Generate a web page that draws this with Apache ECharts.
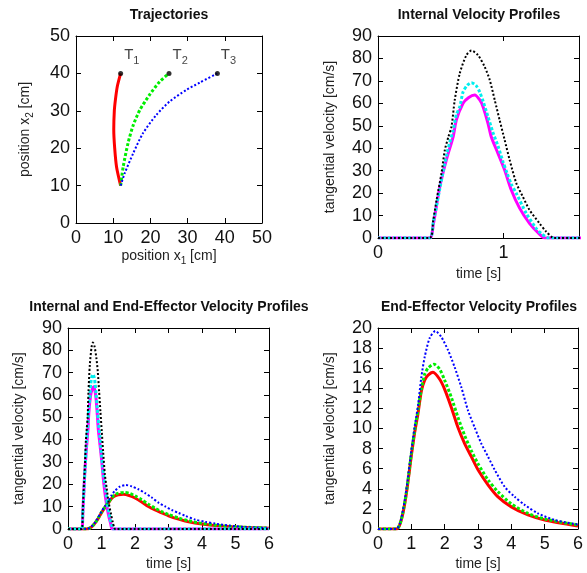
<!DOCTYPE html>
<html><head><meta charset="utf-8">
<script src="https://cdn.jsdelivr.net/npm/echarts@6/dist/echarts.min.js"></script>
<style>html,body{margin:0;padding:0;background:#fff}#c{width:587px;height:573px}</style>
</head><body><div id="c"></div>
<script>
// ---------- Trajectories (position x1, x2 in cm) ----------
const t1X = [12, 10.9, 10.4, 10.15, 10.3, 10.6, 11.1, 12];
const t1Y = [10, 15, 20, 25, 30, 33, 36.5, 40];
const t2X = [12, 12.7, 14.0, 15.4, 17.2, 19.8, 22.5, 25];
const t2Y = [10, 15.1, 21.4, 26.2, 30.3, 34.3, 37.8, 40];
const t3X = [12, 13.1, 15.4, 18.0, 21.6, 25.2, 29.7, 33.2, 38];
const t3Y = [10, 13.3, 18.7, 24, 28.9, 32.5, 35.6, 37.5, 40];
const endX = [12, 25, 38];
const endY = [40, 40, 40];
const endLabels = ['1', '2', '3'];

// ---------- Internal velocity profiles (time s, cm/s) ----------
const intBlackT = [0,0.41,0.44,0.466,0.505,0.532,0.56,0.585,0.611,0.651,0.704,0.744,0.796,0.849,0.889,0.929,0.968,1.008,1.048,1.101,1.153,1.206,1.286,1.339,1.38,1.40,6];
const intBlackV = [0,0,8,16.9,28.8,39.2,45,49.6,61.5,73.4,81.5,83.5,81.5,76.3,70.5,61.5,52.6,43.7,34.8,24.4,18.4,12.5,6.5,2.8,0.6,0,0];
const intCyanT = [0,0.41,0.44,0.492,0.55,0.598,0.624,0.651,0.677,0.71,0.744,0.78,0.81,0.836,0.876,0.915,0.955,0.995,1.028,1.061,1.101,1.18,1.259,1.30,1.36,6];
const intCyanV = [0,0,7,22,38,48,55,58.5,65,68,69.2,68,65,61,54,47,41,34,28.8,24,19.9,11,4.3,2,0,0];
const intMagT = [0,0.41,0.44,0.492,0.55,0.598,0.624,0.677,0.72,0.77,0.81,0.836,0.876,0.902,0.955,1.008,1.061,1.127,1.206,1.272,1.33,6];
const intMagV = [0,0,6,22.9,36,45.1,52.6,60,62.5,63.7,61.5,58.5,51,45,37.7,30.3,21.4,13.3,6.5,2.5,0,0];

// ---------- End-effector velocity profiles (time s, cm/s) ----------
const eeBlueT = [0,0.55,0.65,0.75,0.85,0.95,1.0,1.1,1.2,1.3,1.4,1.55,1.72,1.9,2.1,2.3,2.5,2.7,2.9,3.1,3.3,3.5,3.8,4.1,4.4,4.8,5.3,6.0];
const eeBlueV = [0,0,0.5,1.9,3.9,6.5,7.8,10.2,12.3,15.1,17.1,19.0,19.7,19.1,17.8,16.1,14.1,11.8,10.1,8.5,7.2,5.9,4.2,3.2,2.4,1.55,0.9,0.45];
const eeGreenT = [0,0.55,0.65,0.75,0.85,0.95,1.0,1.1,1.2,1.3,1.4,1.5,1.68,1.85,2.0,2.2,2.4,2.6,2.8,3.0,3.3,3.6,4.0,4.5,5.0,6.0];
const eeGreenV = [0,0,0.4,1.7,3.6,6.2,7.5,9.8,11.8,13.9,15.4,16.0,16.4,15.9,14.8,13.1,11.1,9.3,7.8,6.5,4.9,3.7,2.5,1.55,1.0,0.4];
const eeRedT = [0,0.55,0.65,0.75,0.85,0.95,1.0,1.1,1.2,1.3,1.4,1.5,1.65,1.85,2.0,2.2,2.4,2.6,2.8,3.0,3.3,3.6,4.0,4.5,5.0,6.0];
const eeRedV = [0,0,0.4,1.6,3.5,6.0,7.3,9.6,11.5,13.7,14.8,15.3,15.6,14.9,13.9,12.1,10.1,8.5,7.2,5.9,4.4,3.2,2.2,1.4,0.9,0.3];

const zip = (a, b) => a.map((v, i) => [v, b[i]]);

const FONT = '"Liberation Sans", Arial, Helvetica, sans-serif';
const chart = echarts.init(document.getElementById('c'), null, {renderer: 'canvas'});

const subRich = {
  n: {fontFamily: FONT, fontSize: 14, color: '#222', lineHeight: 15, padding: [0, 0, 3, 0], verticalAlign: 'bottom'},
  s: {fontFamily: FONT, fontSize: 10, color: '#222', lineHeight: 10, verticalAlign: 'bottom'}
};
const tRich = {
  n: {fontFamily: FONT, fontSize: 15, color: '#111', lineHeight: 16, padding: [0, 0, 4, 0], verticalAlign: 'bottom'},
  s: {fontFamily: FONT, fontSize: 11, color: '#111', lineHeight: 11, verticalAlign: 'bottom'}
};

const grids = [
  {left: 76, top: 36, width: 186, height: 187},
  {left: 378, top: 36, width: 201, height: 202},
  {left: 68, top: 328, width: 201, height: 201},
  {left: 378, top: 328, width: 200, height: 201}
];
const xSpec = [
  {min: 0, max: 50, interval: 10, name: '{n|position x}{s|1}{n| [cm]}', gap: 28},
  {min: 0, max: 1.6, interval: 1, name: 'time [s]', gap: 29, fmt: v => (v === 0 || v === 1) ? String(v) : ''},
  {min: 0, max: 6, interval: 1, name: 'time [s]', gap: 28},
  {min: 0, max: 6, interval: 1, name: 'time [s]', gap: 28}
];
const ySpec = [
  {min: 0, max: 50, interval: 10, name: '{n|position x}{s|2}{n| [cm]}', gap: 41},
  {min: 0, max: 90, interval: 10, name: 'tangential velocity [cm/s]', gap: 41},
  {min: 0, max: 90, interval: 10, name: 'tangential velocity [cm/s]', gap: 42},
  {min: 0, max: 20, interval: 2, name: 'tangential velocity [cm/s]', gap: 41}
];

const lineC = {lineStyle: {color: '#000', width: 1}, onZero: false};
const tickC = {inside: true, length: 5, lineStyle: {color: '#000', width: 1}};
const xAxis = [], yAxis = [];
xSpec.forEach((s, i) => {
  xAxis.push({type: 'value', gridIndex: i, min: s.min, max: s.max, interval: s.interval, position: 'bottom',
    name: s.name, nameLocation: 'middle', nameGap: s.gap,
    nameTextStyle: {fontFamily: FONT, fontSize: 14, color: '#222', rich: subRich},
    axisLine: lineC, axisTick: tickC, splitLine: {show: false},
    axisLabel: {fontFamily: FONT, fontSize: 18, color: '#111', margin: 6, formatter: s.fmt || (v => String(v))}});
});
xSpec.forEach((s, i) => {
  xAxis.push({type: 'value', gridIndex: i, min: s.min, max: s.max, interval: s.interval, position: 'top',
    axisLine: lineC, axisTick: tickC, splitLine: {show: false}, axisLabel: {show: false}});
});
ySpec.forEach((s, i) => {
  yAxis.push({type: 'value', gridIndex: i, min: s.min, max: s.max, interval: s.interval, position: 'left',
    name: s.name, nameLocation: 'middle', nameGap: s.gap,
    nameTextStyle: {fontFamily: FONT, fontSize: 14, color: '#222', rich: subRich},
    axisLine: lineC, axisTick: tickC, splitLine: {show: false},
    axisLabel: {fontFamily: FONT, fontSize: 18, color: '#111', margin: 6}});
});
ySpec.forEach((s, i) => {
  yAxis.push({type: 'value', gridIndex: i, min: s.min, max: s.max, interval: s.interval, position: 'right',
    axisLine: lineC, axisTick: tickC, splitLine: {show: false}, axisLabel: {show: false}});
});

function line(idx, data, color, width, type, z) {
  return {type: 'line', xAxisIndex: idx, yAxisIndex: idx, data: data, showSymbol: false, symbol: 'none',
    smooth: 0.25, lineStyle: {color: color, width: width, type: type, cap: 'butt'}, z: z || 2,
    animation: false, silent: true};
}
const dotG = [3, 2], dotB = [2, 2];

const series = [
  // Panel 1
  line(0, zip(t1X, t1Y), '#ff0000', 3, 'solid', 3),
  line(0, zip(t2X, t2Y), '#00ee00', 3, dotG, 3),
  line(0, zip(t3X, t3Y), '#0000ff', 2, dotB, 3),
  {type: 'scatter', xAxisIndex: 0, yAxisIndex: 0, data: zip(endX, endY), symbolSize: 5, z: 5,
    itemStyle: {color: '#000'}, animation: false, silent: true,
    label: {show: true, position: 'right', offset: [-4, -15], rich: tRich,
      formatter: p => '{n|T}{s|' + endLabels[p.dataIndex] + '}'}},
  // Panel 2
  line(1, zip(intMagT, intMagV), '#ff00ff', 3, 'solid', 2),
  line(1, zip(intCyanT, intCyanV), '#00eeee', 3, dotG, 3),
  line(1, zip(intBlackT, intBlackV), '#000000', 2, dotB, 4),
  // Panel 3
  line(2, zip(eeRedT, eeRedV), '#ff0000', 3, 'solid', 2),
  line(2, zip(eeGreenT, eeGreenV), '#00ee00', 3, dotG, 3),
  line(2, zip(eeBlueT, eeBlueV), '#0000ff', 2, dotB, 3),
  line(2, zip(intMagT, intMagV), '#ff00ff', 3, 'solid', 2),
  line(2, zip(intCyanT, intCyanV), '#00eeee', 3, dotG, 3),
  line(2, zip(intBlackT, intBlackV), '#000000', 2, dotB, 4),
  // Panel 4
  line(3, zip(eeRedT, eeRedV), '#ff0000', 3, 'solid', 2),
  line(3, zip(eeGreenT, eeGreenV), '#00ee00', 3, dotG, 3),
  line(3, zip(eeBlueT, eeBlueV), '#0000ff', 2, dotB, 4)
];

const tStyle = {fontFamily: FONT, fontSize: 14, fontWeight: 'bold', color: '#111'};
const title = [
  {text: 'Trajectories', left: 169, top: 8, textAlign: 'center', padding: 0, textStyle: tStyle},
  {text: 'Internal Velocity Profiles', left: 479, top: 8, textAlign: 'center', padding: 0, textStyle: tStyle},
  {text: 'Internal and End-Effector Velocity Profiles', left: 169, top: 300, textAlign: 'center', padding: 0, textStyle: tStyle},
  {text: 'End-Effector Velocity Profiles', left: 479, top: 300, textAlign: 'center', padding: 0, textStyle: tStyle}
];

chart.setOption({animation: false, backgroundColor: '#fff', title: title, grid: grids, xAxis: xAxis, yAxis: yAxis, series: series});
</script></body></html>
